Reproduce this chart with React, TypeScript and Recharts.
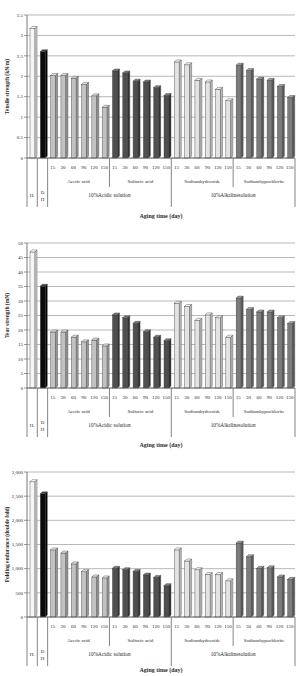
import React from 'react';
import { BarChart, Bar, XAxis, YAxis, CartesianGrid, Cell, Label } from 'recharts';

// ---- categories / labels ----
const controls = ['H.', 'D H'];
const days = ['15', '30', '60', '90', '120', '150'];
const solutions = ['Acetic acid', 'Sulfuric acid', 'Sodiumhydroxide', 'Sodiumhypochlorite'];
const solutionTypes = ['10%Acidic solution', '10%Alkalinesolution'];
const xTitle = 'Aging time (day)';

// ---- series values ----
const tensileControl = [3.22, 2.65];
const tensileAcetic = [2.07, 2.07, 2.0, 1.85, 1.57, 1.29];
const tensileSulfuric = [2.18, 2.13, 1.93, 1.91, 1.77, 1.58];
const tensileHydroxide = [2.4, 2.33, 1.95, 1.91, 1.73, 1.45];
const tensileHypochlorite = [2.32, 2.19, 1.98, 1.95, 1.8, 1.53];
const tensileTicks = [0, 0.5, 1, 1.5, 2, 2.5, 3, 3.5];

const tearControl = [47.6, 35.8];
const tearAcetic = [20, 20, 18.2, 16.6, 17.2, 15.2];
const tearSulfuric = [25.9, 24.9, 23, 20.1, 18.2, 17];
const tearHydroxide = [29.9, 28.8, 24, 25.9, 24.9, 18.2];
const tearHypochlorite = [31.7, 27.8, 26.9, 26.9, 24.9, 22.9];
const tearTicks = [0, 5, 10, 15, 20, 25, 30, 35, 40, 45, 50];

const foldControl = [2840, 2590];
const foldAcetic = [1430, 1365, 1140, 980, 870, 850];
const foldSulfuric = [1050, 1020, 985, 910, 860, 690];
const foldHydroxide = [1430, 1200, 1020, 920, 920, 790];
const foldHypochlorite = [1570, 1290, 1050, 1060, 870, 820];
const foldTicks = [0, 500, 1000, 1500, 2000, 2500, 3000];

// ---- styles ----
const FONT = '"Liberation Serif", "Times New Roman", serif';
const TEXT = '#2a2a2a';
const groupColors = [
  { front: '#f6f6f6', top: '#ffffff', side: '#cfcfcf' }, // H
  { front: '#0b0b0b', top: '#444444', side: '#000000' }, // D H
  { front: '#c2c2c2', top: '#e2e2e2', side: '#989898' }, // acetic
  { front: '#4f4f4f', top: '#7c7c7c', side: '#323232' }, // sulfuric
  { front: '#e3e3e3', top: '#f5f5f5', side: '#bcbcbc' }, // hydroxide
  { front: '#7c7c7c', top: '#a2a2a2', side: '#585858' }, // hypochlorite
];

function buildRows(control: number[], groups: number[][]) {
  const rows: { key: string; value: number; g: number }[] = [];
  control.forEach((v, i) => rows.push({ key: 'c' + i, value: v, g: i }));
  groups.forEach((vals, gi) => {
    vals.forEach((v, di) => rows.push({ key: 'g' + gi + '-' + days[di], value: v, g: gi + 2 }));
  });
  return rows;
}

const tensileRows = buildRows(tensileControl, [tensileAcetic, tensileSulfuric, tensileHydroxide, tensileHypochlorite]);
const tearRows = buildRows(tearControl, [tearAcetic, tearSulfuric, tearHydroxide, tearHypochlorite]);
const foldRows = buildRows(foldControl, [foldAcetic, foldSulfuric, foldHydroxide, foldHypochlorite]);

const N = 26;
const M_LEFT = 27;
const M_RIGHT = 4;
const CHART_W = 299;
const PLOT_W = CHART_W - M_LEFT - M_RIGHT;

const Bar3D = (props: any) => {
  const { x, y, width, height, payload } = props;
  if (!height || height <= 0) return null;
  const c = groupColors[payload.g];
  const d = 2;
  const fy = y + d;
  const h = height - d;
  return (
    <g stroke="#3c3c3c" strokeWidth={0.4}>
      <rect x={x} y={fy} width={width} height={h} fill={c.front} />
      <path d={`M${x},${fy} L${x + d},${y} L${x + width + d},${y} L${x + width},${fy} Z`} fill={c.top} />
      <path
        d={`M${x + width},${fy} L${x + width + d},${y} L${x + width + d},${y + height - d} L${x + width},${y + height} Z`}
        fill={c.side}
      />
    </g>
  );
};

const MultiTick = (props: any) => {
  const { x, y, payload, titleOffset } = props;
  const i: number = payload?.index ?? props.index;
  const band = payload?.offset ? payload.offset * 2 : PLOT_W / N;
  const half = band / 2;
  const FULL = 49;
  const MID = 29;
  const els: React.ReactNode[] = [];
  const line = (lx: number, len: number, k: string) =>
    els.push(<line key={k} x1={lx} x2={lx} y1={y} y2={y + len} stroke="#666" strokeWidth={0.8} />);
  const txt = (tx: number, ty: number, s: string, k: string, size = 5, weight = 'normal') =>
    els.push(
      <text key={k} x={tx} y={ty} textAnchor="middle" fontSize={size} fontFamily={FONT} fill={TEXT} fontWeight={weight}>
        {s}
      </text>
    );
  if (i === 0) {
    line(x - half, FULL, 'l0');
    line(x + half, FULL, 'r0');
    txt(x, y + 39, controls[0], 'h');
  } else if (i === 1) {
    line(x + half, FULL, 'r1');
    const parts = controls[1].split(' ');
    txt(x, y + 36, parts[0], 'd1');
    txt(x, y + 43, parts[1], 'd2');
  } else {
    const k = i - 2;
    const di = k % 6;
    const gi = Math.floor(k / 6);
    txt(x, y + 11, days[di], 'day');
    if (di === 2) txt(x + half, y + 25, solutions[gi], 'grp', 5);
    if (i === 7) {
      line(x + half, MID, 'm1');
      txt(x + half, y + 39, solutionTypes[0], 'st0', 5.3);
    }
    if (i === 19) {
      line(x + half, MID, 'm2');
      txt(x + half, y + 39, solutionTypes[1], 'st1', 5.3);
    }
    if (i === 13 || i === 25) line(x + half, FULL, 'f' + i);
    if (i === 12) txt(x + half, y + (titleOffset ?? 60), xTitle, 'title', 6, 'bold');
  }
  return <g>{els}</g>;
};

type PanelProps = {
  top: number;
  height: number;
  xHeight: number;
  rows: any[];
  ticks: number[];
  yTitle: string;
  titleOffset: number;
  fmt?: (v: number) => string;
};

const Panel = ({ top, height, xHeight, rows, ticks, yTitle, titleOffset, fmt }: PanelProps) => (
  <div style={{ position: 'absolute', left: 0, top, width: CHART_W, height }}>
    <BarChart
      width={CHART_W}
      height={height}
      data={rows}
      margin={{ top: 15, right: M_RIGHT, bottom: 0, left: 7 }}
      barSize={5}
    >
      <CartesianGrid vertical={false} stroke="#8a8a8a" strokeWidth={0.6} />
      <XAxis
        dataKey="key"
        interval={0}
        tickLine={false}
        tickSize={0}
        tickMargin={0}
        height={xHeight}
        axisLine={{ stroke: '#555', strokeWidth: 0.8 }}
        tick={<MultiTick titleOffset={titleOffset} />}
      />
      <YAxis
        width={20}
        domain={[ticks[0], ticks[ticks.length - 1]]}
        ticks={ticks}
        interval={0}
        tickSize={3}
        tickMargin={1}
        tickFormatter={fmt}
        axisLine={{ stroke: '#555', strokeWidth: 0.8 }}
        tickLine={{ stroke: '#555', strokeWidth: 0.6 }}
        tick={{ fontSize: 5, fill: TEXT, fontFamily: FONT }}
      >
        <Label
          value={yTitle}
          angle={-90}
          position="insideLeft"
          offset={0}
          style={{ textAnchor: 'middle', fontSize: 5.5, fontWeight: 'bold', fontFamily: FONT, fill: TEXT }}
        />
      </YAxis>
      <Bar dataKey="value" isAnimationActive={false} shape={<Bar3D />}>
        {rows.map((r, i) => (
          <Cell key={i} fill={groupColors[r.g].front} />
        ))}
      </Bar>
    </BarChart>
  </div>
);

export default function App() {
  return (
    <div style={{ position: 'absolute', left: 0, top: 0, width: 299, height: 676, background: '#fff', overflow: 'hidden' }}>
      <Panel top={0} height={225} xHeight={67} rows={tensileRows} ticks={tensileTicks} yTitle="Tensile strength (kN/m)" titleOffset={60} />
      <Panel top={228} height={225} xHeight={65} rows={tearRows} ticks={tearTicks} yTitle="Tear strength (mN)" titleOffset={59} />
      <Panel
        top={457}
        height={219}
        xHeight={59}
        rows={foldRows}
        ticks={foldTicks}
        yTitle="Folding endurance (double fold)"
        titleOffset={55}
        fmt={(v: number) => v.toLocaleString('en-US')}
      />
    </div>
  );
}
